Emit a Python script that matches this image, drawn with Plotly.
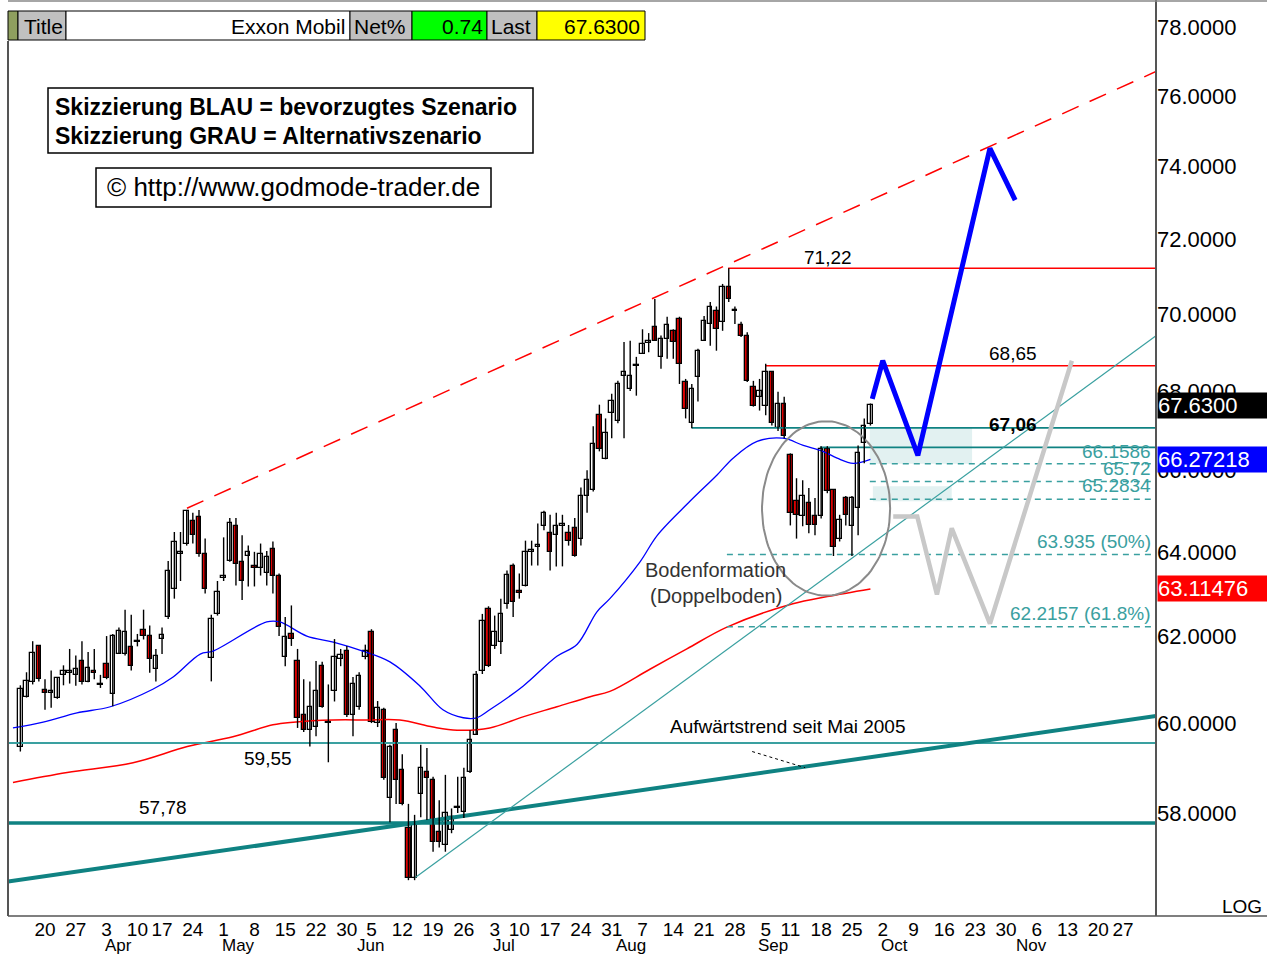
import numpy as np
import pandas as pd
import plotly.graph_objects as go

# ---------------- data ----------------
opens = [59.47, 60.60, 60.93, 61.77, 60.75, 60.68, 60.58, 61.10, 61.15, 61.10, 61.43, 60.93, 61.20, 60.88, 61.35,
         60.65, 61.58, 61.58, 61.75, 61.88, 62.15, 62.00, 61.23, 61.93, 62.45, 63.12, 63.95, 64.19, 64.75, 64.85, 63.95,
         61.50, 62.52, 63.38, 63.78, 64.63, 63.76, 63.90, 63.65, 63.60, 63.48, 64.07, 63.43, 61.51, 62.05, 61.42,
         60.19, 59.84, 59.91, 61.30, 60.00, 60.72, 61.47, 61.65, 60.19, 60.37, 61.51, 62.10, 60.00, 60.30, 58.33,
         59.84, 58.95, 57.68, 56.60, 58.42, 58.90, 58.73, 57.59, 57.31, 57.63, 58.10, 58.02, 58.90, 59.73, 61.19,
         62.64, 61.77, 61.86, 62.76, 63.67, 63.05, 63.19, 64.00, 64.12, 64.62, 64.45, 64.40, 64.63, 64.45, 64.57,
         64.32, 65.37, 65.50, 67.38, 66.27,
         67.43, 67.23, 68.38, 68.05, 68.64, 68.96, 69.25, 69.66, 68.88, 69.35, 69.56, 69.88, 68.23, 67.18, 68.36,
         69.30, 69.74, 70.08, 69.79, 70.72, 70.10, 69.70, 69.42, 68.10, 67.85, 67.62, 68.49, 67.05, 67.68,
         66.37, 65.23, 64.86, 65.19, 64.86, 64.86, 66.54, 65.50, 64.32, 65.30, 64.62, 65.06, 66.67, 67.15]
highs = [60.86, 61.16, 61.88, 61.79, 61.00, 61.20, 61.05, 61.32, 61.70, 61.55, 61.88, 61.63, 61.70, 61.10, 62.00,
         62.05, 62.20, 62.62, 62.50, 62.05, 62.62, 62.25, 61.70, 62.20, 63.78, 64.48, 64.48, 65.02, 64.95, 65.02, 64.32,
         62.50, 63.30, 64.35, 64.82, 64.82, 64.40, 64.15, 64.00, 64.20, 64.02, 64.25, 63.48, 62.45, 62.72, 61.70,
         61.00, 60.95, 61.42, 61.40, 60.88, 61.93, 61.70, 61.77, 61.05, 61.16, 61.80, 62.16, 60.50, 60.35, 59.51,
         60.00, 59.30, 58.20, 57.96, 59.51, 59.44, 58.80, 58.28, 58.84, 58.10, 58.80, 59.00, 59.84, 61.19, 62.52,
         62.70, 62.48, 62.88, 63.55, 63.72, 63.48, 64.27, 64.27, 64.69, 65.00, 64.90, 64.95, 64.90, 64.65, 64.82,
         65.57, 66.00, 67.10, 67.65, 67.30,
         67.93, 68.26, 69.27, 69.30, 68.88, 69.60, 69.50, 70.40, 69.44, 69.93, 69.60, 69.93, 68.31, 68.18, 69.09,
         69.95, 70.32, 70.20, 70.80, 71.22, 70.20, 69.80, 69.52, 68.26, 68.31, 68.70, 68.49, 67.98, 67.85,
         66.42, 65.80, 65.75, 65.56, 65.31, 66.60, 66.60, 65.53, 64.90, 65.36, 65.36, 66.62, 67.30, 67.68]
lows = [59.36, 60.58, 60.88, 60.95, 60.30, 60.35, 60.55, 60.86, 60.90, 60.85, 60.88, 60.93, 61.00, 60.80, 61.00,
        60.38, 61.58, 61.55, 61.20, 61.76, 61.92, 61.15, 60.95, 61.58, 62.40, 62.88, 63.30, 64.15, 64.20, 63.88, 63.00,
        60.95, 62.48, 63.30, 63.76, 63.19, 62.85, 63.17, 63.17, 63.43, 63.19, 63.00, 62.00, 61.30, 61.77, 59.89,
        59.80, 59.47, 59.70, 60.35, 59.12, 60.49, 61.30, 60.14, 59.70, 60.30, 61.46, 60.00, 59.91, 58.73, 57.80,
        58.20, 58.17, 56.55, 56.55, 57.91, 57.85, 57.16, 57.25, 57.16, 57.56, 58.00, 57.89, 58.88, 59.73, 61.12,
        61.28, 61.70, 61.58, 62.64, 62.45, 62.88, 63.17, 63.67, 63.67, 64.52, 63.55, 63.65, 63.65, 64.15, 63.88,
        64.15, 64.95, 65.47, 66.47, 66.27,
        66.80, 67.18, 66.80, 68.00, 67.88, 68.96, 69.00, 69.30, 68.57, 68.83, 68.83, 68.18, 67.30, 67.05, 67.73,
        69.30, 69.17, 69.04, 69.56, 70.32, 69.74, 69.40, 68.23, 67.60, 67.50, 67.38, 67.12, 66.98, 66.80,
        64.64, 64.32, 64.62, 64.45, 64.40, 64.81, 65.43, 63.90, 64.25, 64.64, 63.90, 64.40, 66.17, 67.12]
closes = [60.77, 60.95, 61.60, 61.00, 60.68, 60.72, 61.02, 61.20, 61.16, 61.23, 60.93, 61.26, 61.14, 60.86, 61.03,
          62.00, 62.12, 62.10, 61.30, 61.86, 62.00, 61.46, 61.53, 62.02, 63.55, 64.23, 63.98, 65.00, 64.40, 63.95, 63.12,
          62.40, 63.05, 63.42, 64.70, 63.71, 63.30, 64.00, 63.62, 63.95, 63.88, 63.43, 62.21, 61.98, 61.93, 60.12,
          59.84, 60.37, 60.72, 60.37, 60.02, 61.51, 61.56, 60.19, 60.88, 61.07, 61.65, 60.02, 60.35, 58.78, 59.47,
          58.73, 58.20, 56.60, 57.74, 59.00, 58.78, 57.36, 57.36, 58.00, 57.91, 58.12, 58.78, 59.62, 61.10, 62.36,
          61.30, 62.10, 62.52, 63.45, 62.81, 63.02, 64.00, 64.02, 64.15, 64.95, 64.00, 64.62, 64.65, 64.25, 63.90,
          65.37, 65.75, 66.65, 66.52, 66.94,
          67.75, 68.18, 68.49, 68.38, 68.66, 69.22, 69.30, 69.30, 69.35, 69.70, 69.28, 68.70, 67.55, 68.05, 69.04,
          69.82, 70.20, 69.60, 70.72, 70.40, 70.08, 69.42, 68.26, 67.62, 68.00, 68.49, 67.18, 67.68, 66.85,
          64.94, 64.89, 65.36, 64.64, 64.64, 66.54, 65.48, 64.12, 64.77, 64.89, 65.31, 66.42, 67.12, 67.63]

# moving averages (trading-day position, price)
ma_blue_x = [-1.2, 3.7, 9.2, 14.6, 21.5, 24.8, 29.2, 31.3, 40.0, 42.1, 46.5, 50.8, 55.6, 60.0, 64.9, 68.6, 71.9,
             74.1, 76.2, 81.6, 87.1, 90.4, 93.6, 95.7, 100.6, 103.4, 108.7, 113.1, 115.7, 119.6, 123.8, 127.1,
             130.3, 132.6, 135.2, 138.0]
ma_blue_y = [59.89, 60.02, 60.23, 60.37, 60.77, 61.05, 61.58, 61.65, 62.33, 62.33, 62.00, 61.86, 61.65, 61.40, 60.84,
             60.30, 60.12, 60.12, 60.30, 60.84, 61.53, 61.81, 62.57, 62.88, 63.76, 64.40, 65.23, 65.88, 66.30, 66.72,
             66.80, 66.62, 66.47, 66.30, 66.17, 66.27]
ma_red_x = [-1.2, 7.6, 18.3, 27.1, 34.5, 41.0, 44.3, 50.8, 56.3, 61.6, 67.0, 70.9, 76.2, 81.6, 87.1, 92.5, 95.7,
            102.2, 108.2, 114.7, 125.4, 131.0, 138.0]
ma_red_y = [58.67, 58.89, 59.11, 59.47, 59.69, 59.96, 60.02, 60.07, 60.07, 60.07, 59.91, 59.84, 59.89, 60.14, 60.37,
            60.60, 60.72, 61.23, 61.70, 62.21, 62.76, 62.93, 63.11]

# scenario sketches
blue_x = [138.3, 140.0, 145.7, 157.4, 161.5]
blue_y = [67.80, 68.78, 66.37, 74.51, 73.07]
gray_x = [141.7, 145.6, 148.8, 151.2, 157.4, 170.7]
gray_y = [64.86, 64.86, 62.98, 64.57, 62.29, 68.78]

# horizontal levels: (start position, price)
red_levels = [(114.9, 71.22), (121.0, 68.65)]
teal_levels = [(109.0, 67.06), (129.8, 66.57)]
fib_short = [(137.9, 66.1586), (137.9, 65.72), (137.9, 65.2834)]
fib_long = [(114.7, 63.935), (114.7, 62.2157)]
support_thin = 59.55
support_thick = 57.78

# trend lines: (x0, y0, x1, y1)
trend_long = (-2.0, 56.52, 184.36, 60.16)
trend_short = (64.06, 56.6, 184.36, 69.43)
channel_top = (27.05, 65.06, 184.36, 76.70)

last_price = 67.63
last_blue = 66.27218
last_red = 63.11476

month_names = ["Apr", "May", "Jun", "Jul", "Aug", "Sep", "Oct", "Nov"]

# ---------------- calendar / axes ----------------
holidays = ["2006-04-14", "2006-05-29", "2006-07-04", "2006-09-04", "2006-11-23"]
days = [d for d in pd.bdate_range("2006-03-14", "2006-12-08") if d.strftime("%Y-%m-%d") not in holidays]
xc = list(range(len(opens)))

tickvals, ticktext = [], []
month_pos = {}
for k, d in enumerate(days):
    first_of_week = k == 0 or d.isocalendar()[1] != days[k - 1].isocalendar()[1]
    if first_of_week and pd.Timestamp("2006-03-20") <= d <= pd.Timestamp("2006-11-27"):
        tickvals.append(k)
        ticktext.append(str(d.day))
    if (k == 0 or d.month != days[k - 1].month) and d.month >= 4:
        month_pos[d.month] = k

W, H = 1267, 956
ML, MR, MT, MB = 8, 111, 2, 40
PW, PH = W - ML - MR, H - MT - MB
X_MIN, X_MAX = -2.006, 184.36
Y_RANGE = [1.74657, 1.89618]


def px(x):
    return (x - ML) / PW


def py(y):
    return (H - MB - y) / PH


FONT = "Liberation Sans, Arial, sans-serif"
TEAL = "#0f8282"
TEAL_L = "#3aa0a0"

fig = go.Figure()

# shaded zones
for (x0, x1, y0, y1) in [(137.9, 154.5, 66.16, 67.06), (138.4, 151.2, 65.23, 65.60)]:
    fig.add_trace(go.Scatter(x=[x0, x1, x1, x0, x0], y=[y0, y0, y1, y1, y0], fill="toself",
                             fillcolor="rgba(190,225,225,0.45)", line=dict(width=0), mode="lines",
                             hoverinfo="skip", showlegend=False))


def hline(x0, y, color, width, dash="solid"):
    fig.add_trace(go.Scatter(x=[x0, X_MAX], y=[y, y], mode="lines",
                             line=dict(color=color, width=width, dash=dash),
                             hoverinfo="skip", showlegend=False))


def seg(t, color, width, dash="solid"):
    fig.add_trace(go.Scatter(x=[t[0], t[2]], y=[t[1], t[3]], mode="lines",
                             line=dict(color=color, width=width, dash=dash),
                             hoverinfo="skip", showlegend=False))


# moving averages
fig.add_trace(go.Scatter(x=ma_red_x, y=ma_red_y, mode="lines", line=dict(color="#ff0000", width=1.5, shape="spline"),
                         hoverinfo="skip", showlegend=False))
fig.add_trace(go.Scatter(x=ma_blue_x, y=ma_blue_y, mode="lines", line=dict(color="#0000ff", width=1.3, shape="spline"),
                         hoverinfo="skip", showlegend=False))

# levels
for x0, y in red_levels:
    hline(x0, y, "#ff0000", 1.5)
for x0, y in teal_levels:
    hline(x0, y, TEAL, 1.8)
for x0, y in fib_short + fib_long:
    hline(x0, y, TEAL_L, 1.5, "6px,5px")
hline(X_MIN, support_thin, TEAL_L, 2)
hline(X_MIN, support_thick, TEAL, 3.5)

# trend lines
seg(trend_long, TEAL, 4)
seg(trend_short, TEAL_L, 1.2)
seg(channel_top, "#ff0000", 1.5, "18px,12px")

# pointer to trendline
fig.add_trace(go.Scatter(x=[118.8, 127.4], y=[59.36, 59.0], mode="lines",
                         line=dict(color="#000000", width=1, dash="dot"), hoverinfo="skip", showlegend=False))

# ellipse around double bottom
t = np.linspace(0, 2 * np.pi, 120)
cx, rx = (120.4 + 141.2) / 2, (141.2 - 120.4) / 2
ly0, ly1 = np.log10(62.95), np.log10(67.23)
cy, ry = (ly0 + ly1) / 2, (ly1 - ly0) / 2
fig.add_trace(go.Scatter(x=cx + rx * np.cos(t), y=10 ** (cy + ry * np.sin(t)), mode="lines",
                         line=dict(color="#8a8a8a", width=2), hoverinfo="skip", showlegend=False))

# candles: wicks then bodies
wx, wy = [], []
for i in xc:
    wx += [i, i, None]
    wy += [lows[i], highs[i], None]
fig.add_trace(go.Scatter(x=wx, y=wy, mode="lines", line=dict(color="#000000", width=1.4),
                         hoverinfo="skip", showlegend=False))
body_base = [min(o, c) for o, c in zip(opens, closes)]
body_h = [max(abs(c - o), 0.035) for o, c in zip(opens, closes)]
body_col = ["#ffffff" if c >= o else "#dd0000" for o, c in zip(opens, closes)]
fig.add_trace(go.Bar(x=xc, y=body_h, base=body_base, width=0.72,
                     marker=dict(color=body_col, line=dict(color="#000000", width=1.3)),
                     hoverinfo="skip", showlegend=False))

# scenarios
fig.add_trace(go.Scatter(x=gray_x, y=gray_y, mode="lines", line=dict(color="#c8c8c8", width=4.5),
                         hoverinfo="skip", showlegend=False))
fig.add_trace(go.Scatter(x=blue_x, y=blue_y, mode="lines", line=dict(color="#0000ff", width=5),
                         hoverinfo="skip", showlegend=False))

ann = []


def text(x, y, s, size=19, color="#000000", xanchor="center", bold=False):
    if bold:
        s = "<b>" + s + "</b>"
    ann.append(dict(x=x, y=np.log10(y), xref="x", yref="y", text=s, showarrow=False, xanchor=xanchor,
                    yanchor="middle", font=dict(family=FONT, size=size, color=color)))


text(131.1, 71.50, "71,22")
text(161.1, 68.96, "68,65")
text(161.1, 67.15, "67,06", bold=True)
text(183.9, 66.47, "66.1586", color=TEAL_L, xanchor="right")
text(183.9, 66.05, "65.72", color=TEAL_L, xanchor="right")
text(183.9, 65.63, "65.2834", color=TEAL_L, xanchor="right")
text(183.9, 64.25, "63.935 (50%)", color=TEAL_L, xanchor="right")
text(183.9, 62.52, "62.2157 (61.8%)", color=TEAL_L, xanchor="right")
text(40.2, 59.20, "59,55")
text(23.2, 58.11, "57,78")
text(124.6, 59.93, "Aufwärtstrend seit Mai 2005")
text(112.9, 63.57, "Bodenformation", size=20, color="#333333")
text(112.9, 62.95, "(Doppelboden)", size=20, color="#333333")

# right axis value boxes
for val, bg in [(last_price, "#000000"), (last_blue, "#0000ff"), (last_red, "#ff0000")]:
    s = f"{val:.4f}" if val == last_price else f"{val:.5f}"
    ann.append(dict(x=1, y=np.log10(val), xref="paper", yref="y", text=s, showarrow=False, xanchor="left",
                    yanchor="middle", xshift=1, width=110, height=25, align="left", bgcolor=bg, borderpad=0,
                    font=dict(family=FONT, size=22, color="#ffffff")))

# month labels
for m, name in zip(range(4, 12), month_names):
    ann.append(dict(x=month_pos[m], y=py(945), xref="x", yref="paper", text=name, showarrow=False,
                    xanchor="left", yanchor="middle", xshift=-4, font=dict(family=FONT, size=17, color="#000")))

ann.append(dict(x=px(1264), y=py(906), xref="paper", yref="paper", text="LOG", showarrow=False,
                xanchor="right", yanchor="middle", font=dict(family=FONT, size=19, color="#000")))

shapes = []
# header bar
header = [(8, 18, "#8f9f5f"), (18, 66, "#c0c0c0"), (66, 350, "#ffffff"), (350, 412, "#c0c0c0"),
          (412, 487, "#00ff00"), (487, 537, "#c0c0c0"), (537, 645, "#ffff00")]
for x0, x1, c in header:
    shapes.append(dict(type="rect", xref="paper", yref="paper", x0=px(x0), x1=px(x1), y0=py(40), y1=py(11),
                       fillcolor=c, line=dict(color="#000000", width=1), layer="above"))
for s, x, xa in [("Title", 22, "left"), ("Exxon Mobil", 347, "right"), ("Net%", 352, "left"),
                 ("0.74", 485, "right"), ("Last", 489, "left"), ("67.6300", 642, "right")]:
    ann.append(dict(x=px(x), y=py(26), xref="paper", yref="paper", text=s, showarrow=False, xanchor=xa,
                    yanchor="middle", font=dict(family=FONT, size=21, color="#000")))

# legend boxes
shapes.append(dict(type="rect", xref="paper", yref="paper", x0=px(48), x1=px(533), y0=py(153), y1=py(88),
                   fillcolor="#ffffff", line=dict(color="#000", width=1.5), layer="above"))
ann.append(dict(x=px(53), y=py(107), xref="paper", yref="paper", showarrow=False, xanchor="left", yanchor="middle",
                text="<b>Skizzierung BLAU = bevorzugtes Szenario</b>", font=dict(family=FONT, size=23, color="#000")))
ann.append(dict(x=px(53), y=py(136), xref="paper", yref="paper", showarrow=False, xanchor="left", yanchor="middle",
                text="<b>Skizzierung GRAU = Alternativszenario</b>", font=dict(family=FONT, size=23, color="#000")))
shapes.append(dict(type="rect", xref="paper", yref="paper", x0=px(96), x1=px(491), y0=py(207), y1=py(168),
                   fillcolor="#ffffff", line=dict(color="#000", width=1.5), layer="above"))
ann.append(dict(x=px(105), y=py(187), xref="paper", yref="paper", showarrow=False, xanchor="left", yanchor="middle",
                text="© http://www.godmode-trader.de", font=dict(family=FONT, size=26, color="#000")))

# frame
shapes.append(dict(type="line", xref="paper", yref="paper", x0=0, x1=0, y0=0, y1=py(41),
                   line=dict(color="#555", width=2)))
shapes.append(dict(type="line", xref="paper", yref="paper", x0=0, x1=px(1267), y0=0, y1=0,
                   line=dict(color="#555", width=1.5)))
shapes.append(dict(type="line", xref="paper", yref="paper", x0=1, x1=1, y0=0, y1=py(0),
                   line=dict(color="#555", width=2)))
shapes.append(dict(type="line", xref="paper", yref="paper", x0=0, x1=px(1267), y0=py(1), y1=py(1),
                   line=dict(color="#888", width=1.5)))

fig.update_layout(
    width=W, height=H, margin=dict(l=ML, r=MR, t=MT, b=MB),
    paper_bgcolor="#ffffff", plot_bgcolor="#ffffff", showlegend=False, bargap=0,
    annotations=ann, shapes=shapes,
    xaxis=dict(range=[X_MIN, X_MAX], tickvals=tickvals, ticktext=ticktext, showgrid=False, zeroline=False,
               ticks="", showline=False, fixedrange=True,
               tickfont=dict(family=FONT, size=19, color="#000")),
    yaxis=dict(type="log", range=Y_RANGE, side="right", tickvals=list(range(58, 80, 2)),
               ticktext=[f"{v:.4f}" for v in range(58, 80, 2)], showgrid=False, zeroline=False,
               ticks="", showline=False, tickfont=dict(family=FONT, size=22, color="#000")),
)

fig.write_html("out.html", config={"displayModeBar": False},
               post_script="document.body.style.margin='0';document.body.style.overflow='hidden';")
